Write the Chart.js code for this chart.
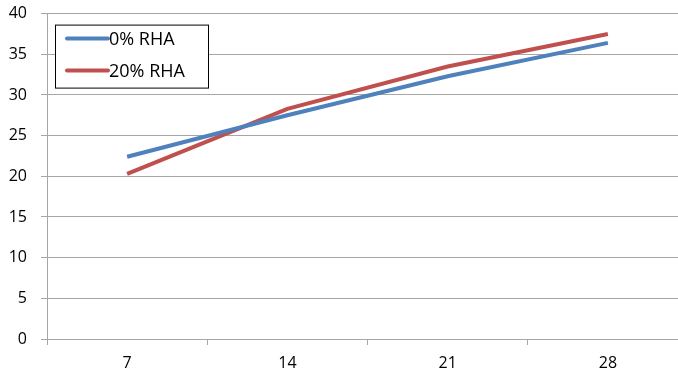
<!DOCTYPE html>
<html>
<head>
<meta charset="utf-8">
<script src="https://cdn.jsdelivr.net/npm/chart.js@4"></script>
<style>
  html, body { margin: 0; padding: 0; background: #fff; overflow: hidden; }
  #wrap { width: 688px; height: 387px; margin-top: -10px; }
</style>
</head>
<body>
<div id="wrap"><canvas id="myChart"></canvas></div>
<script>
const days = ['7', '14', '21', '28'];
const rha0 = [22.4, 27.5, 32.3, 36.4];
const rha20 = [20.3, 28.3, 33.5, 37.5];
const yTicks = [0, 5, 10, 15, 20, 25, 30, 35, 40];

const fontFam = "'Open Sans', 'Liberation Sans', sans-serif";
const gridCol = '#a6a6a6';

// legend box drawn inside the plot, like the original
const boxLegend = {
    id: 'boxLegend',
    afterDraw(chart) {
        const ctx = chart.ctx;
        const top = chart.chartArea.top;
        const x0 = 55, y0 = top + 11, w = 153, h = 63;
        ctx.save();
        ctx.fillStyle = '#fff';
        ctx.fillRect(x0, y0, w, h);
        ctx.strokeStyle = '#000';
        ctx.lineWidth = 1;
        ctx.strokeRect(x0 + 0.5, y0 + 0.5, w, h);
        ctx.font = '18px ' + fontFam;
        ctx.textBaseline = 'middle';
        chart.data.datasets.forEach((ds, i) => {
            const y = y0 + 14 + i * 32;
            ctx.strokeStyle = ds.borderColor;
            ctx.lineWidth = 4;
            ctx.lineCap = 'round';
            ctx.beginPath();
            ctx.moveTo(67, y);
            ctx.lineTo(108, y);
            ctx.stroke();
            ctx.fillStyle = '#000';
            ctx.fillText(ds.label, 109, y + 1);
        });
        ctx.restore();
    }
};

const ctx = document.getElementById('myChart');
new Chart(ctx, {
    type: 'line',
    data: {
        labels: days,
        datasets: [{
            label: '0% RHA',
            data: rha0,
            borderColor: '#4f81bd',
            borderWidth: 4,
            pointRadius: 0,
            tension: 0
        }, {
            label: '20% RHA',
            data: rha20,
            borderColor: '#c0504d',
            borderWidth: 4,
            pointRadius: 0,
            tension: 0
        }]
    },
    options: {
        responsive: true,
        maintainAspectRatio: false,
        animation: false,
        layout: { padding: { top: 5, right: 0, bottom: 0, left: 0 } },
        plugins: { legend: { display: false }, tooltip: { enabled: false } },
        scales: {
            x: {
                offset: true,
                grid: { offset: true, drawOnChartArea: false, drawTicks: true, tickLength: 6, color: gridCol },
                border: { color: gridCol },
                ticks: { color: '#000', font: { family: fontFam, size: 16 }, padding: 9, maxRotation: 0 },
                afterFit(axis) { axis.height = 38; }
            },
            y: {
                min: 0,
                max: 40,
                afterBuildTicks(axis) { axis.ticks = yTicks.map(v => ({ value: v })); },
                grid: { color: gridCol, tickLength: 6 },
                border: { color: gridCol },
                ticks: { color: '#000', font: { family: fontFam, size: 16 }, padding: 14 },
                afterFit(axis) { axis.width = 47; }
            }
        }
    },
    plugins: [boxLegend]
});
</script>
</body>
</html>
